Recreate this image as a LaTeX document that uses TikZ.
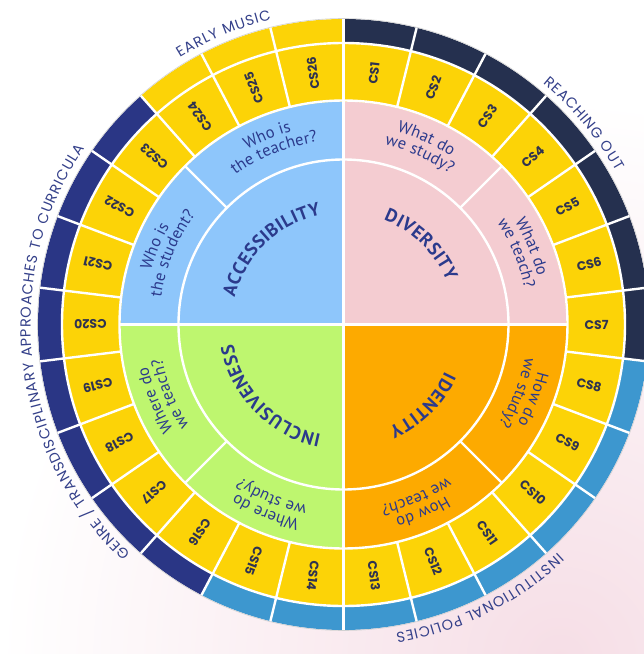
\documentclass[tikz,border=0pt]{standalone}
\usepackage{fontspec}
\usetikzlibrary{decorations.text}
\newfontfamily\popfont{Poppins}
\newfontfamily\ptfont{PT Sans}
\definecolor{cyel}{HTML}{FCD307}
\definecolor{cblue}{HTML}{8EC6FB}
\definecolor{cpink}{HTML}{F4CCD1}
\definecolor{corange}{HTML}{FDAA00}
\definecolor{cgreen}{HTML}{BEF66F}
\definecolor{reachdark}{HTML}{25304F}
\definecolor{genrenavy}{HTML}{2A3685}
\definecolor{instblue}{HTML}{3D97CF}
\definecolor{txtnavy}{HTML}{2B3A8C}
\definecolor{csnavy}{HTML}{2F3350}
\definecolor{lblnavy}{HTML}{34408A}
\definecolor{bgpink}{HTML}{F6DEE6}
\newcommand\ttlf{\fontsize{18.5}{20}\selectfont\ptfont\bfseries\color{txtnavy}\kern0.6pt}
\newcommand\qf{\fontsize{16.5}{18}\selectfont\ptfont\color{txtnavy}\kern0.2pt}
\newcommand\lblf{\fontsize{14.5}{16}\selectfont\popfont\color{lblnavy}\kern0.9pt}
% #1 centre angle, #2 radius, #3 half span, #4 format, #5 text
\newcommand\arctext[5]{%
  \pgfmathsetmacro\sA{#1+#3}\pgfmathsetmacro\sB{#1-#3}%
  \path[decorate, decoration={text along path, text align=center, text={|#4|#5}}]
    (\sA:#2) arc[start angle=\sA, end angle=\sB, radius=#2];}
% #1 a1, #2 a2, #3 r1, #4 r2, #5 colour
\newcommand\sector[5]{%
  \fill[#5] (#1:#3) arc[start angle=#1, end angle=#2, radius=#3] -- (#2:#4) arc[start angle=#2, end angle=#1, radius=#4] -- cycle;}
\begin{document}
\begin{tikzpicture}[x=1pt,y=1pt,
  wline/.style={white, line width=2.4pt},
  cslabel/.style={font=\fontsize{12.5}{14}\selectfont\popfont\bfseries, text=csnavy, inner sep=0pt}]
\useasboundingbox (-343.5,-329.5) rectangle (300.5,324.5);
\begin{scope}
  \clip (-343.5,-329.5) rectangle (300.5,324.5);
  \fill[white] (-343.5,-329.5) rectangle (300.5,324.5);
  \shade[inner color=bgpink, outer color=white] (216,-335) circle (560);
\end{scope}
% quadrants
\fill[cpink] (0,0) -- (0:224) arc[start angle=0, end angle=90, radius=224] -- cycle;
\fill[cblue] (0,0) -- (90:224) arc[start angle=90, end angle=180, radius=224] -- cycle;
\fill[cgreen] (0,0) -- (180:224) arc[start angle=180, end angle=270, radius=224] -- cycle;
\fill[corange] (0,0) -- (270:224) arc[start angle=270, end angle=360, radius=224] -- cycle;
% CS ring
\fill[cyel, even odd rule] (0,0) circle (282) (0,0) circle (223);
% outer ring groups
\pgfmathsetmacro\dd{360/26}
\pgfmathsetmacro\gA{90-7*\dd}
\pgfmathsetmacro\gB{90-15*\dd}
\pgfmathsetmacro\gC{90-23*\dd}
\sector{90}{\gA}{281}{305.5}{reachdark}
\sector{\gA}{\gB}{281}{305.5}{instblue}
\sector{\gB}{\gC}{281}{305.5}{genrenavy}
\sector{\gC}{-270}{281}{305.5}{cyel}
\draw[black!18, line width=0.6pt] (0,0) circle (306);
% white separators
\draw[wline] (0,0) circle (165);
\draw[wline] (0,0) circle (224);
\draw[wline] (0,0) circle (281.5);
\draw[wline] (-224,0) -- (224,0);
\draw[wline] (0,-224) -- (0,224);
\foreach \a in {45,135,225,315} \draw[wline] (\a:165) -- (\a:224);
\foreach \k in {0,...,25} {
  \pgfmathsetmacro\ab{90-\k*360/26}
  \draw[wline] (\ab:224) -- (\ab:305.6);
}
% CS labels
\foreach \k in {1,...,26} {
  \pgfmathsetmacro\am{90-(\k-0.5)*360/26}
  \node[cslabel, rotate=\am] (cs\k) at (\am:253) {CS\k};
}
% quadrant titles
\arctext{134}{112}{80}{\ttlf}{ACCESSIBILITY}
\arctext{46}{112}{80}{\ttlf}{DIVERSITY}
\arctext{-45.5}{112}{80}{\ttlf}{IDENTITY}
\arctext{-135.5}{112}{80}{\ttlf}{INCLUSIVENESS}
% questions
\arctext{112}{200}{40}{\qf}{Who is}
\arctext{112}{184.5}{40}{\qf}{the teacher?}
\arctext{157.5}{200}{40}{\qf}{Who is}
\arctext{157.5}{184.5}{40}{\qf}{the student?}
\arctext{66}{200}{40}{\qf}{What do}
\arctext{66}{184.5}{40}{\qf}{we study?}
\arctext{22.5}{200}{40}{\qf}{What do}
\arctext{22.5}{184.5}{40}{\qf}{we teach?}
\arctext{-21.5}{200}{40}{\qf}{How do}
\arctext{-21.5}{184.5}{40}{\qf}{we study?}
\arctext{-67}{200}{40}{\qf}{How do}
\arctext{-67}{184.5}{40}{\qf}{we teach?}
\arctext{-112.5}{200}{40}{\qf}{Where do}
\arctext{-112.5}{184.5}{40}{\qf}{we study?}
\arctext{-158}{200}{40}{\qf}{Where do}
\arctext{-158}{184.5}{40}{\qf}{we teach?}
% outer labels
\arctext{112.5}{313}{40}{\lblf}{EARLY MUSIC}
\arctext{40}{313}{40}{\lblf}{REACHING OUT}
\arctext{-63.5}{313}{60}{\lblf}{INSTITUTIONAL POLICIES}
\arctext{186.5}{313}{100}{\lblf}{GENRE / TRANSDISCIPLINARY APPROACHES TO CURRICULA}
\end{tikzpicture}
\end{document}
